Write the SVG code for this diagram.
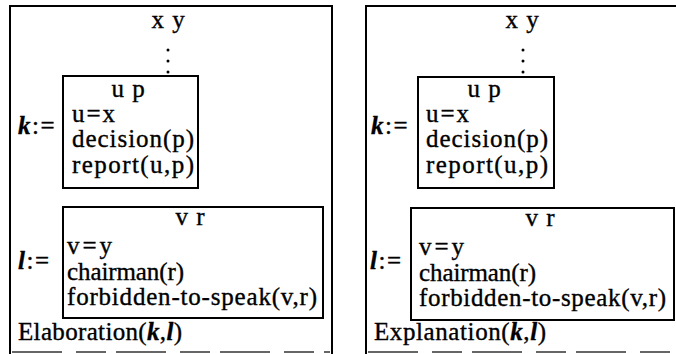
<svg xmlns="http://www.w3.org/2000/svg" width="676" height="354" viewBox="0 0 676 354">
<style>
text{font-family:"Liberation Serif","Times New Roman",serif;font-size:25px;fill:#000;stroke:#000;stroke-width:0.35}
.c{text-anchor:middle;word-spacing:2px}
.m{font-style:italic;font-weight:bold}
.def{letter-spacing:1.5px}
.box{fill:none;stroke:#000;stroke-width:2}
.bot{stroke:#666;stroke-width:2;stroke-dasharray:50 14 30 10}
</style>
<rect width="676" height="354" fill="#fff"/>
<g id="elaboration">
  <path class="box" d="M10,354 V6 H332 V354"/>
  <line class="bot" x1="12" y1="352" x2="330" y2="352"/>
  <text class="c" x="168" y="28">x y</text>
  <g fill="#000"><circle cx="168" cy="50" r="1.5"/><circle cx="168" cy="61" r="1.5"/><circle cx="168" cy="72" r="1.5"/></g>
  <g id="k-left">
    <text class="def" x="18" y="134"><tspan class="m">k</tspan>:=</text>
    <rect class="box" x="63" y="76" width="135" height="112"/>
    <text class="c" x="128" y="97">u p</text>
    <text x="72" y="122" textLength="43" lengthAdjust="spacing">u=x</text>
    <text x="72" y="147" textLength="122" lengthAdjust="spacing">decision(p)</text>
    <text x="72" y="173" textLength="122" lengthAdjust="spacing">report(u,p)</text>
  </g>
  <g id="l-left">
    <text class="def" x="18" y="269"><tspan class="m">l</tspan>:=</text>
    <rect class="box" x="63" y="207" width="260" height="111"/>
    <text class="c" x="190" y="225">v r</text>
    <text x="67" y="254" textLength="45" lengthAdjust="spacing">v=y</text>
    <text x="67" y="280" textLength="117" lengthAdjust="spacing">chairman(r)</text>
    <text x="67" y="305" textLength="250" lengthAdjust="spacing">forbidden-to-speak(v,r)</text>
  </g>
  <text x="18" y="340" textLength="164" lengthAdjust="spacing">Elaboration(<tspan class="m">k</tspan>,<tspan class="m">l</tspan>)</text>
</g>
<g id="explanation">
  <path class="box" d="M366,354 V6 H678"/>
  <line class="bot" x1="368" y1="352" x2="676" y2="352"/>
  <text class="c" x="522" y="28">x y</text>
  <g fill="#000"><circle cx="523" cy="50" r="1.5"/><circle cx="523" cy="61" r="1.5"/><circle cx="523" cy="72" r="1.5"/></g>
  <g id="k-right">
    <text class="def" x="371" y="134"><tspan class="m">k</tspan>:=</text>
    <rect class="box" x="418" y="77" width="136" height="111"/>
    <text class="c" x="484" y="97">u p</text>
    <text x="426" y="122" textLength="43" lengthAdjust="spacing">u=x</text>
    <text x="426" y="147" textLength="122" lengthAdjust="spacing">decision(p)</text>
    <text x="426" y="173" textLength="122" lengthAdjust="spacing">report(u,p)</text>
  </g>
  <g id="l-right">
    <text class="def" x="370" y="269"><tspan class="m">l</tspan>:=</text>
    <rect class="box" x="411" y="208" width="263" height="112"/>
    <text class="c" x="540" y="226">v r</text>
    <text x="419" y="255" textLength="45" lengthAdjust="spacing">v=y</text>
    <text x="419" y="281" textLength="117" lengthAdjust="spacing">chairman(r)</text>
    <text x="419" y="306" textLength="247" lengthAdjust="spacing">forbidden-to-speak(v,r)</text>
  </g>
  <text x="374" y="340" textLength="172" lengthAdjust="spacing">Explanation(<tspan class="m">k</tspan>,<tspan class="m">l</tspan>)</text>
</g>
</svg>
